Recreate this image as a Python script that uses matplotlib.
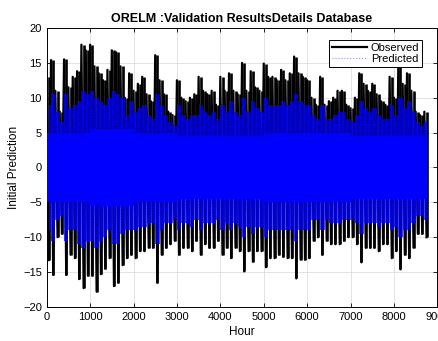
import matplotlib
matplotlib.use("Agg")
import matplotlib.pyplot as plt
import numpy as np

plt.rcParams['font.family'] = ['Liberation Sans', 'DejaVu Sans']

# envelope of the hourly series, read per 100-hour block (block start hour)
hours = np.arange(0, 8800, 100)
obs_hi = [13, 15.4, 11, 8, 15.5, 11.5, 13, 13.8, 17.6, 16.8,
          17.6, 14.5, 13.5, 12.5, 14, 16.8, 16.5, 14.5, 10, 13.5,
          11, 12, 13, 10.5, 9.5, 16.1, 12.5, 10.5, 8, 7.5,
          12.5, 10, 9.5, 10, 10.5, 13, 11, 10.5, 11, 9,
          13, 11, 13.5, 11, 10.5, 15, 11, 13.8, 11.5, 11,
          14.9, 13, 13, 12.5, 14, 12.5, 13.5, 15.9, 13.5, 13,
          12.5, 10, 9, 13, 9, 9.5, 10, 11, 11, 9,
          8.5, 10, 13.5, 12, 11, 12, 10.5, 9.5, 9, 13,
          10, 14.5, 12, 13.5, 11, 8, 7.5, 8]
obs_lo = [-13.3, -15.4, -10, -9.5, -15.4, -12.5, -13, -16, -17.3, -15.5,
          -15.5, -17.8, -15.3, -14.5, -13, -17, -16.5, -14, -13, -12.5,
          -13, -12, -12, -11.5, -11.5, -16.5, -12.5, -11.5, -11, -10.5,
          -12.5, -11.5, -11.5, -12, -10.5, -12.5, -11, -11.5, -11.5, -10.5,
          -12.5, -11.5, -13, -11.5, -12, -14.9, -12, -13.5, -12, -12,
          -14.3, -13, -13, -12.5, -12.8, -13, -13, -15.9, -13.2, -13.2,
          -13, -10.5, -10, -12.5, -10.5, -11, -11, -11, -10.5, -10,
          -10, -11, -13.6, -11.5, -11.5, -11.5, -12, -11, -11, -13,
          -12, -14.6, -12.5, -13, -11.5, -9.5, -9.5, -10]
pred_hi = [9, 10.5, 8, 6.5, 10.5, 8.5, 9, 9.5, 11, 10.5,
           11, 10, 9.5, 9, 10, 11, 10.5, 10, 7.5, 9.5,
           8, 8.5, 9, 7.5, 7, 10.5, 9, 7.5, 6.5, 6,
           9, 7.5, 7, 7.5, 7.5, 9, 8, 7.5, 8, 7,
           9, 8, 9.5, 8, 7.5, 10, 8, 9.5, 8.5, 8,
           10, 9, 9, 9, 9.5, 9, 9.5, 10.5, 9.5, 9,
           9, 7.5, 7, 9, 7, 7, 7.5, 8, 8, 7,
           6.5, 7.5, 9.5, 8.5, 8, 8.5, 7.5, 7, 7, 9,
           7.5, 10, 8.5, 9.5, 8, 6.5, 6, 6.5]
pred_lo = [-9, -10.5, -7.5, -7, -10.5, -9, -9, -11, -11.5, -10.5,
           -10.5, -11.5, -10.5, -10, -9, -11, -11, -9.5, -9, -9,
           -9, -8.5, -8.5, -8, -8, -11, -9, -8, -8, -7.5,
           -9, -8, -8, -8.5, -7.5, -9, -8, -8, -8, -7.5,
           -9, -8, -9, -8, -8.5, -10, -8.5, -9.5, -8.5, -8.5,
           -10, -9, -9, -9, -9, -9, -9, -10.5, -9, -9,
           -9, -7.5, -7.5, -9, -7.5, -8, -8, -8, -7.5, -7.5,
           -7.5, -8, -9.5, -8, -8, -8, -8.5, -8, -8, -9,
           -8.5, -10, -9, -9, -8, -7, -7, -7.5]
# dense centre of the predicted trace, per 1000-hour block
core_hours = np.arange(0, 9000, 1000)
core_hi = [5, 5.5, 5, 4.5, 4.5, 5, 5, 4.5, 4.5]
core_lo = [-5, -5.5, -5, -4.5, -4.5, -5, -5, -4.5, -4.5]

step = hours[1] - hours[0]
x_obs = np.column_stack([hours, hours + step / 2]).ravel()
y_obs = np.column_stack([obs_hi, obs_lo]).ravel()
x_pred = np.column_stack([hours + step / 4, hours + 3 * step / 4]).ravel()
y_pred = np.column_stack([pred_hi, pred_lo]).ravel()

fig = plt.figure(figsize=(4.38, 3.41), dpi=100)
ax = fig.add_axes([0.1066, 0.0997, 0.892, 0.8183])

# observed trace
ax.vlines(hours + step / 2, obs_lo, obs_hi, color='black', linewidth=1.9, zorder=1)
ax.plot(x_obs, y_obs, color='black', linewidth=1.6, label='Observed', zorder=1.5)

# predicted band (dotted blue over black), then the solid centre
ax.fill_between(hours + step / 2, pred_lo, pred_hi, step='mid', color='blue', alpha=0.72,
                linewidth=0, zorder=2)
ax.plot(x_pred, y_pred, color='blue', linestyle=':', linewidth=0.8, label='Predicted',
        zorder=2.5)
ax.fill_between(np.append(core_hours, 8760), np.append(core_hi, core_hi[-1]),
                np.append(core_lo, core_lo[-1]), step='post', color='blue',
                linewidth=0, zorder=3)

ax.set_xlim(0, 9000)
ax.set_ylim(-20, 20)
ax.set_xticks(np.arange(0, 9001, 1000))
ax.set_yticks(np.arange(-20, 21, 5))
ax.grid(True, color='#dedede', linewidth=0.6)
ax.set_axisbelow(True)
ax.tick_params(direction='in', top=True, right=True, length=3, width=0.6, labelsize=8)
for s in ax.spines.values():
    s.set_linewidth(0.7)

ax.set_title('ORELM :Validation ResultsDetails Database', fontsize=9, fontweight='bold', pad=4)
ax.set_xlabel('Hour', fontsize=8.5, labelpad=3)
ax.set_ylabel('Initial Prediction', fontsize=8.5, labelpad=2)

leg = ax.legend(loc='upper right', fontsize=8, fancybox=False, framealpha=1,
                edgecolor='black', handlelength=3.2, borderpad=0.25, labelspacing=0.1,
                handletextpad=0.3, bbox_to_anchor=(0.975, 0.975))
leg.set_zorder(10)
leg.get_frame().set_linewidth(0.7)
leg.get_lines()[1].set_color('#9999ff')

fig.savefig('out.png', dpi=100)
